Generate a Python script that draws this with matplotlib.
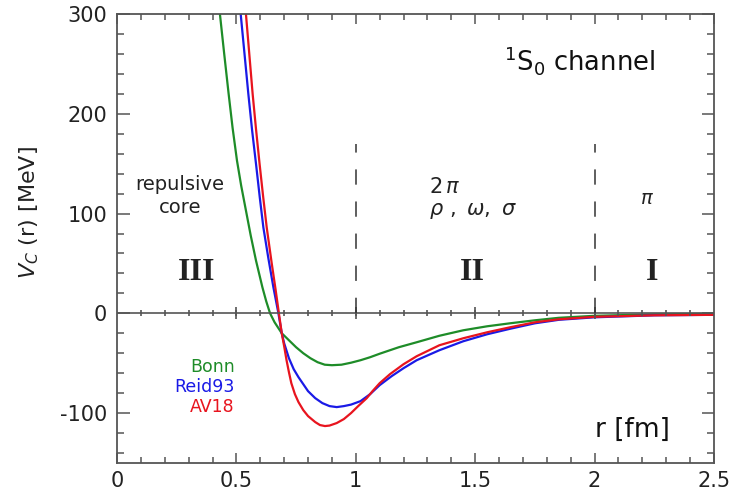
import numpy as np
import matplotlib
matplotlib.use('Agg')
import matplotlib.pyplot as plt
from matplotlib.ticker import MultipleLocator, FuncFormatter

plt.rcParams['axes.unicode_minus'] = False

# curves, r in fm, V in MeV
bonn_r = [0.431, 0.449, 0.467, 0.484, 0.5025, 0.520, 0.540, 0.560, 0.582, 0.609, 0.625,
          0.641, 0.66, 0.69, 0.72, 0.75, 0.78, 0.81, 0.84, 0.87, 0.90, 0.94, 0.98,
          1.02, 1.06, 1.10, 1.18, 1.255, 1.35, 1.45, 1.55, 1.646, 1.75, 1.85, 2.0,
          2.25, 2.5]
bonn_v = [300, 260, 221, 186, 153, 128, 103, 78, 53, 26, 12,
          0, -9, -20, -27, -34, -40, -45, -49, -51.5, -52, -51.5, -49.5,
          -47, -44, -40.5, -34, -29, -22.5, -17, -13, -10, -7, -4.5, -2.5,
          -1, -0.5]

reid_r = [0.518, 0.534, 0.550, 0.566, 0.583, 0.598, 0.613, 0.634, 0.655, 0.676, 0.69,
          0.70, 0.72, 0.74, 0.76, 0.78, 0.80, 0.83, 0.86, 0.89, 0.92, 0.95, 0.98,
          1.02, 1.06, 1.10, 1.15, 1.2, 1.255, 1.35, 1.45, 1.55, 1.646, 1.75, 1.85,
          2.0, 2.25, 2.5]
reid_v = [300, 260, 220, 183, 148, 116, 86, 55, 26, 0, -20,
          -30, -45, -56, -64, -71, -78, -85, -90, -93, -94, -93, -91.5,
          -88, -81, -72, -63, -55, -47, -37, -28, -21, -15.5, -10, -6.5,
          -4, -2, -1.5]

av18_r = [0.540, 0.554, 0.568, 0.582, 0.597, 0.612, 0.627, 0.648, 0.664, 0.678, 0.69,
          0.70, 0.71, 0.72, 0.73, 0.745, 0.76, 0.78, 0.80, 0.83, 0.85, 0.871, 0.89,
          0.92, 0.95, 0.98, 1.01, 1.046, 1.07, 1.10, 1.143, 1.2, 1.255, 1.35, 1.45,
          1.55, 1.646, 1.75, 1.85, 2.0, 2.25, 2.5]
av18_v = [300, 260, 220, 185, 150, 117, 86, 50, 24, 0, -20,
          -33, -47, -59, -70, -81, -89, -97, -103, -109, -112, -113, -112.5,
          -110, -106, -100, -93, -85, -78, -70, -61, -51, -43, -32, -25,
          -19, -14, -9, -6, -3.5, -2, -1.5]

models = ['Bonn', 'Reid93', 'AV18']
colors = ['#1e8c28', '#1a1ae6', '#e8141e']

region_x = [0.334, 1.49, 2.24]
region_names = ['III', 'II', 'I']
boundaries = [1, 2]

fig = plt.figure(figsize=(7.33, 4.93), dpi=100)
ax = fig.add_axes([0.1596, 0.0609, 0.8145, 0.9107])

for r, v, c in zip([bonn_r, reid_r, av18_r], [bonn_v, reid_v, av18_v], colors):
    ax.plot(r, v, color=c, lw=1.6, solid_joinstyle='round')

ax.set_xlim(0, 2.5)
ax.set_ylim(-150, 300)

# zero line with its own little ticks
ax.axhline(0, color='#555555', lw=1.2)
mx = np.arange(0.1, 2.45, 0.1)
ax.plot(mx, np.zeros_like(mx), ls='none', marker='|', ms=5, mew=1.2, color='#555555')
Mx = np.array([0.5, 1.0, 1.5, 2.0])
ax.plot(Mx, np.zeros_like(Mx), ls='none', marker='|', ms=8, mew=1.2, color='#555555')

ax.vlines(boundaries, 0, 170, colors='#333333', linestyles=(0, (10, 11)), lw=1.1)

ax.xaxis.set_major_locator(MultipleLocator(0.5))
ax.xaxis.set_minor_locator(MultipleLocator(0.1))
ax.yaxis.set_major_locator(MultipleLocator(100))
ax.yaxis.set_minor_locator(MultipleLocator(20))
ax.xaxis.set_major_formatter(FuncFormatter(lambda v, p: '%g' % v))
ax.yaxis.set_major_formatter(FuncFormatter(lambda v, p: '%d' % v))

ax.tick_params(which='both', direction='in', top=True, right=True,
               color='#555555', labelcolor='#222222', labelsize=15, width=1.1)
ax.tick_params(axis='y', which='major', length=9, pad=7)
ax.tick_params(axis='y', which='minor', length=5)
ax.tick_params(axis='x', which='major', length=7, pad=6)
ax.tick_params(axis='x', which='minor', length=4)
for s in ax.spines.values():
    s.set_color('#555555')
    s.set_linewidth(1.3)

ax.set_ylabel(r'$V_C$ (r) [MeV]', fontsize=16, color='#222222')
ax.yaxis.set_label_coords(-0.127, 0.557)

ax.text(1.62, 253, r'$^1$S$_0$ channel', fontsize=18.5, ha='left', va='center', color='#111111')
ax.text(0.264, 129, 'repulsive', fontsize=14, ha='center', va='center', color='#222222')
ax.text(0.264, 106, 'core', fontsize=14, ha='center', va='center', color='#222222')
for x, name in zip(region_x, region_names):
    ax.text(x, 41, name, family='Liberation Serif', weight='bold', fontsize=23,
            ha='center', va='center', color='#222222')
ax.text(1.307, 127, r'2$\,\pi$', fontsize=15, ha='left', va='center', color='#222222')
ax.text(1.307, 103, r'$\rho\ ,\ \omega,\ \sigma$', fontsize=15, ha='left', va='center', color='#222222')
ax.text(2.218, 115, r'$\pi$', fontsize=14, ha='center', va='center', color='#222222')

for i, (m, c) in enumerate(zip(models, colors)):
    ax.text(0.494, -54 - 20 * i, m, fontsize=12.5, ha='right', va='center', color=c)

ax.text(2.16, -117, 'r [fm]', fontsize=19, ha='center', va='center', color='#111111')

fig.savefig('out.png', dpi=100)
